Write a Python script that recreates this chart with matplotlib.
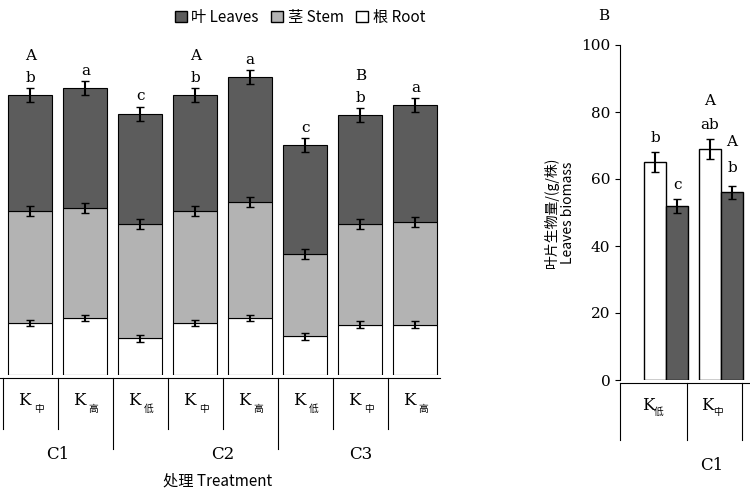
import matplotlib.pyplot as plt
from matplotlib.patches import Patch

plt.rcParams['font.family'] = ['Noto Sans CJK SC', 'DejaVu Sans']

# Panel A: stacked biomass (root / stem / leaves, cumulative tops)
x_labels = ["中", "高", "低", "中", "高", "低", "中", "高"]
groups = ["C1", "C2", "C3"]
root = [15.5, 17.0, 11.0, 15.5, 17.0, 11.6, 15.0, 15.0]
stem_top = [49.0, 49.9, 45.0, 49.0, 51.6, 36.0, 45.0, 45.7]
leaf_top = [83.6, 85.7, 78.0, 83.6, 89.0, 68.7, 77.6, 80.6]
letters_a = [["b", "A"], ["a"], ["c"], ["b", "A"], ["a"], ["c"], ["b", "B"], ["a"]]

# Panel B: leaves biomass
b_labels = ["低", "中"]
b_white = [65, 69]
b_dark = [52, 56]

W, H = 750, 500
fig = plt.figure(figsize=(7.5, 5), dpi=100)
dark, mid = "#5c5c5c", "#b3b3b3"

ax = fig.add_axes([0, (H - 375) / H, 440 / W, 375 / H])
ax.set_xlim(-0.55, 7.45)
ax.set_ylim(0, 112)
ax.axis("off")
xs = range(len(root))
stem = [s - r for s, r in zip(stem_top, root)]
leaf = [l - s for l, s in zip(leaf_top, stem_top)]
kw = dict(width=0.8, edgecolor="black", linewidth=0.8)
ax.bar(xs, root, color="white", yerr=1, capsize=3, **kw)
ax.bar(xs, stem, bottom=root, color=mid, yerr=1.5, capsize=3, **kw)
ax.bar(xs, leaf, bottom=stem_top, color=dark, yerr=2, capsize=3, **kw)
for i, labs in enumerate(letters_a):
    for j, t in enumerate(labs):
        ax.text(i, leaf_top[i] + 4 + j * 6.5, t, ha="center", fontsize=11,
                family="DejaVu Serif")
    ax.text(i - 0.1, -9, "K", ha="center", fontsize=12, clip_on=False, family="DejaVu Serif")
    ax.text(i + 0.15, -11, x_labels[i], ha="center", fontsize=7, clip_on=False)
ax.plot([-0.55, 7.45], [-1, -1], color="black", lw=0.8, clip_on=False)
for i in range(8):
    bottom = -22 if i in (2, 5) else -16
    ax.plot([i - 0.5, i - 0.5], [-1, bottom], color="black", lw=0.8, clip_on=False)
for g, c in zip(groups, [0.5, 3.5, 6]):
    ax.text(c, -25, g, ha="center", fontsize=12, clip_on=False, family="DejaVu Serif")
ax.text(3.4, -33, "处理 Treatment", ha="center", fontsize=11, clip_on=False)

handles = [Patch(facecolor=dark, edgecolor="black", label="叶 Leaves"),
           Patch(facecolor=mid, edgecolor="black", label="茎 Stem"),
           Patch(facecolor="white", edgecolor="black", label="根 Root")]
fig.legend(handles=handles, ncol=3, loc="upper center", bbox_to_anchor=(0.4, 1.01),
           frameon=False, fontsize=11, handlelength=0.8, columnspacing=0.8, handletextpad=0.3)

# Panel B
bx = fig.add_axes([620 / W, (H - 380) / H, 130 / W, 335 / H])
bx.set_xlim(0, 130)
bx.set_ylim(0, 100)
for s in ("top", "right", "bottom"):
    bx.spines[s].set_visible(False)
bx.set_xticks([])
bx.set_yticks(range(0, 101, 20))
bx.tick_params(labelsize=11)
for lab in bx.get_yticklabels():
    lab.set_family("DejaVu Serif")
bx.bar([35, 90], b_white, width=22, color="white", edgecolor="black", yerr=3, capsize=3)
bx.bar([57, 112], b_dark, width=22, color=dark, edgecolor="black", yerr=2, capsize=3)
for x, y, t in [(35, 71, "b"), (57, 57, "c"), (90, 82, "A"), (90, 75, "ab"),
                (112, 70, "A"), (112, 62, "b")]:
    bx.text(x, y, t, ha="center", fontsize=11, family="DejaVu Serif")
bx.plot([0, 130], [-1, -1], color="black", lw=0.8, clip_on=False)
for xv in [0, 67, 122]:
    bx.plot([xv, xv], [-1, -18], color="black", lw=0.8, clip_on=False)
for i, c in enumerate([33, 92]):
    bx.text(c - 5, -9, "K", ha="center", fontsize=12, clip_on=False, family="DejaVu Serif")
    bx.text(c + 6, -10.5, b_labels[i], ha="center", fontsize=7, clip_on=False)
bx.text(92, -27, "C1", ha="center", fontsize=12, clip_on=False, family="DejaVu Serif")
bx.set_ylabel("叶片生物量/(g/株)\nLeaves biomass", fontsize=10)
fig.text(598 / W, 1 - 20 / H, "B", fontsize=11, family="DejaVu Serif")

fig.savefig("out.png", dpi=100)
